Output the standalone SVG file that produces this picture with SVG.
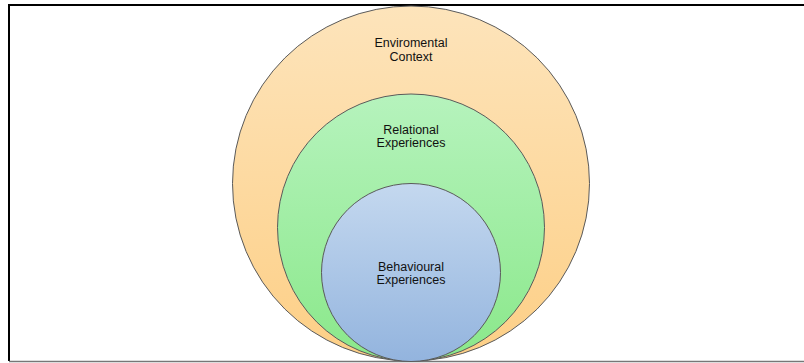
<svg xmlns="http://www.w3.org/2000/svg" width="804" height="363" viewBox="0 0 804 363">
<defs>
<linearGradient id="gOrange" x1="0" y1="0" x2="0" y2="1">
<stop offset="0" stop-color="#fde4bb"/>
<stop offset="1" stop-color="#fdcf86"/>
</linearGradient>
<linearGradient id="gGreen" x1="0" y1="0" x2="0" y2="1">
<stop offset="0" stop-color="#b6f3bd"/>
<stop offset="1" stop-color="#8ae88a"/>
</linearGradient>
<linearGradient id="gBlue" x1="0" y1="0" x2="0" y2="1">
<stop offset="0" stop-color="#c4d8ef"/>
<stop offset="1" stop-color="#93b4de"/>
</linearGradient>
<style>
.ring{stroke:#5a5a5a;stroke-width:1}
.lbl{font-family:"Liberation Sans",Arial,sans-serif;font-size:12.5px;fill:#111;text-anchor:middle}
</style>
</defs>
<rect x="0" y="0" width="804" height="363" fill="#ffffff"/>
<path d="M9 361 V5 H804" fill="none" stroke="#000" stroke-width="2"/>
<line x1="9" y1="361.5" x2="804" y2="361.5" stroke="#777" stroke-width="1.5"/>
<g id="env">
<ellipse class="ring" cx="411" cy="183.5" rx="178.5" ry="177.5" fill="url(#gOrange)"/>
<text class="lbl" x="411" y="46.5">Enviromental</text>
<text class="lbl" x="411" y="60.5">Context</text>
</g>
<g id="rel">
<ellipse class="ring" cx="411" cy="227.5" rx="133.5" ry="133.5" fill="url(#gGreen)"/>
<text class="lbl" x="411" y="134">Relational</text>
<text class="lbl" x="411" y="147">Experiences</text>
</g>
<g id="beh">
<ellipse class="ring" cx="411" cy="272.5" rx="89.5" ry="89" fill="url(#gBlue)"/>
<text class="lbl" x="411" y="271">Behavioural</text>
<text class="lbl" x="411" y="284">Experiences</text>
</g>
<g id="connectors"/>
</svg>
